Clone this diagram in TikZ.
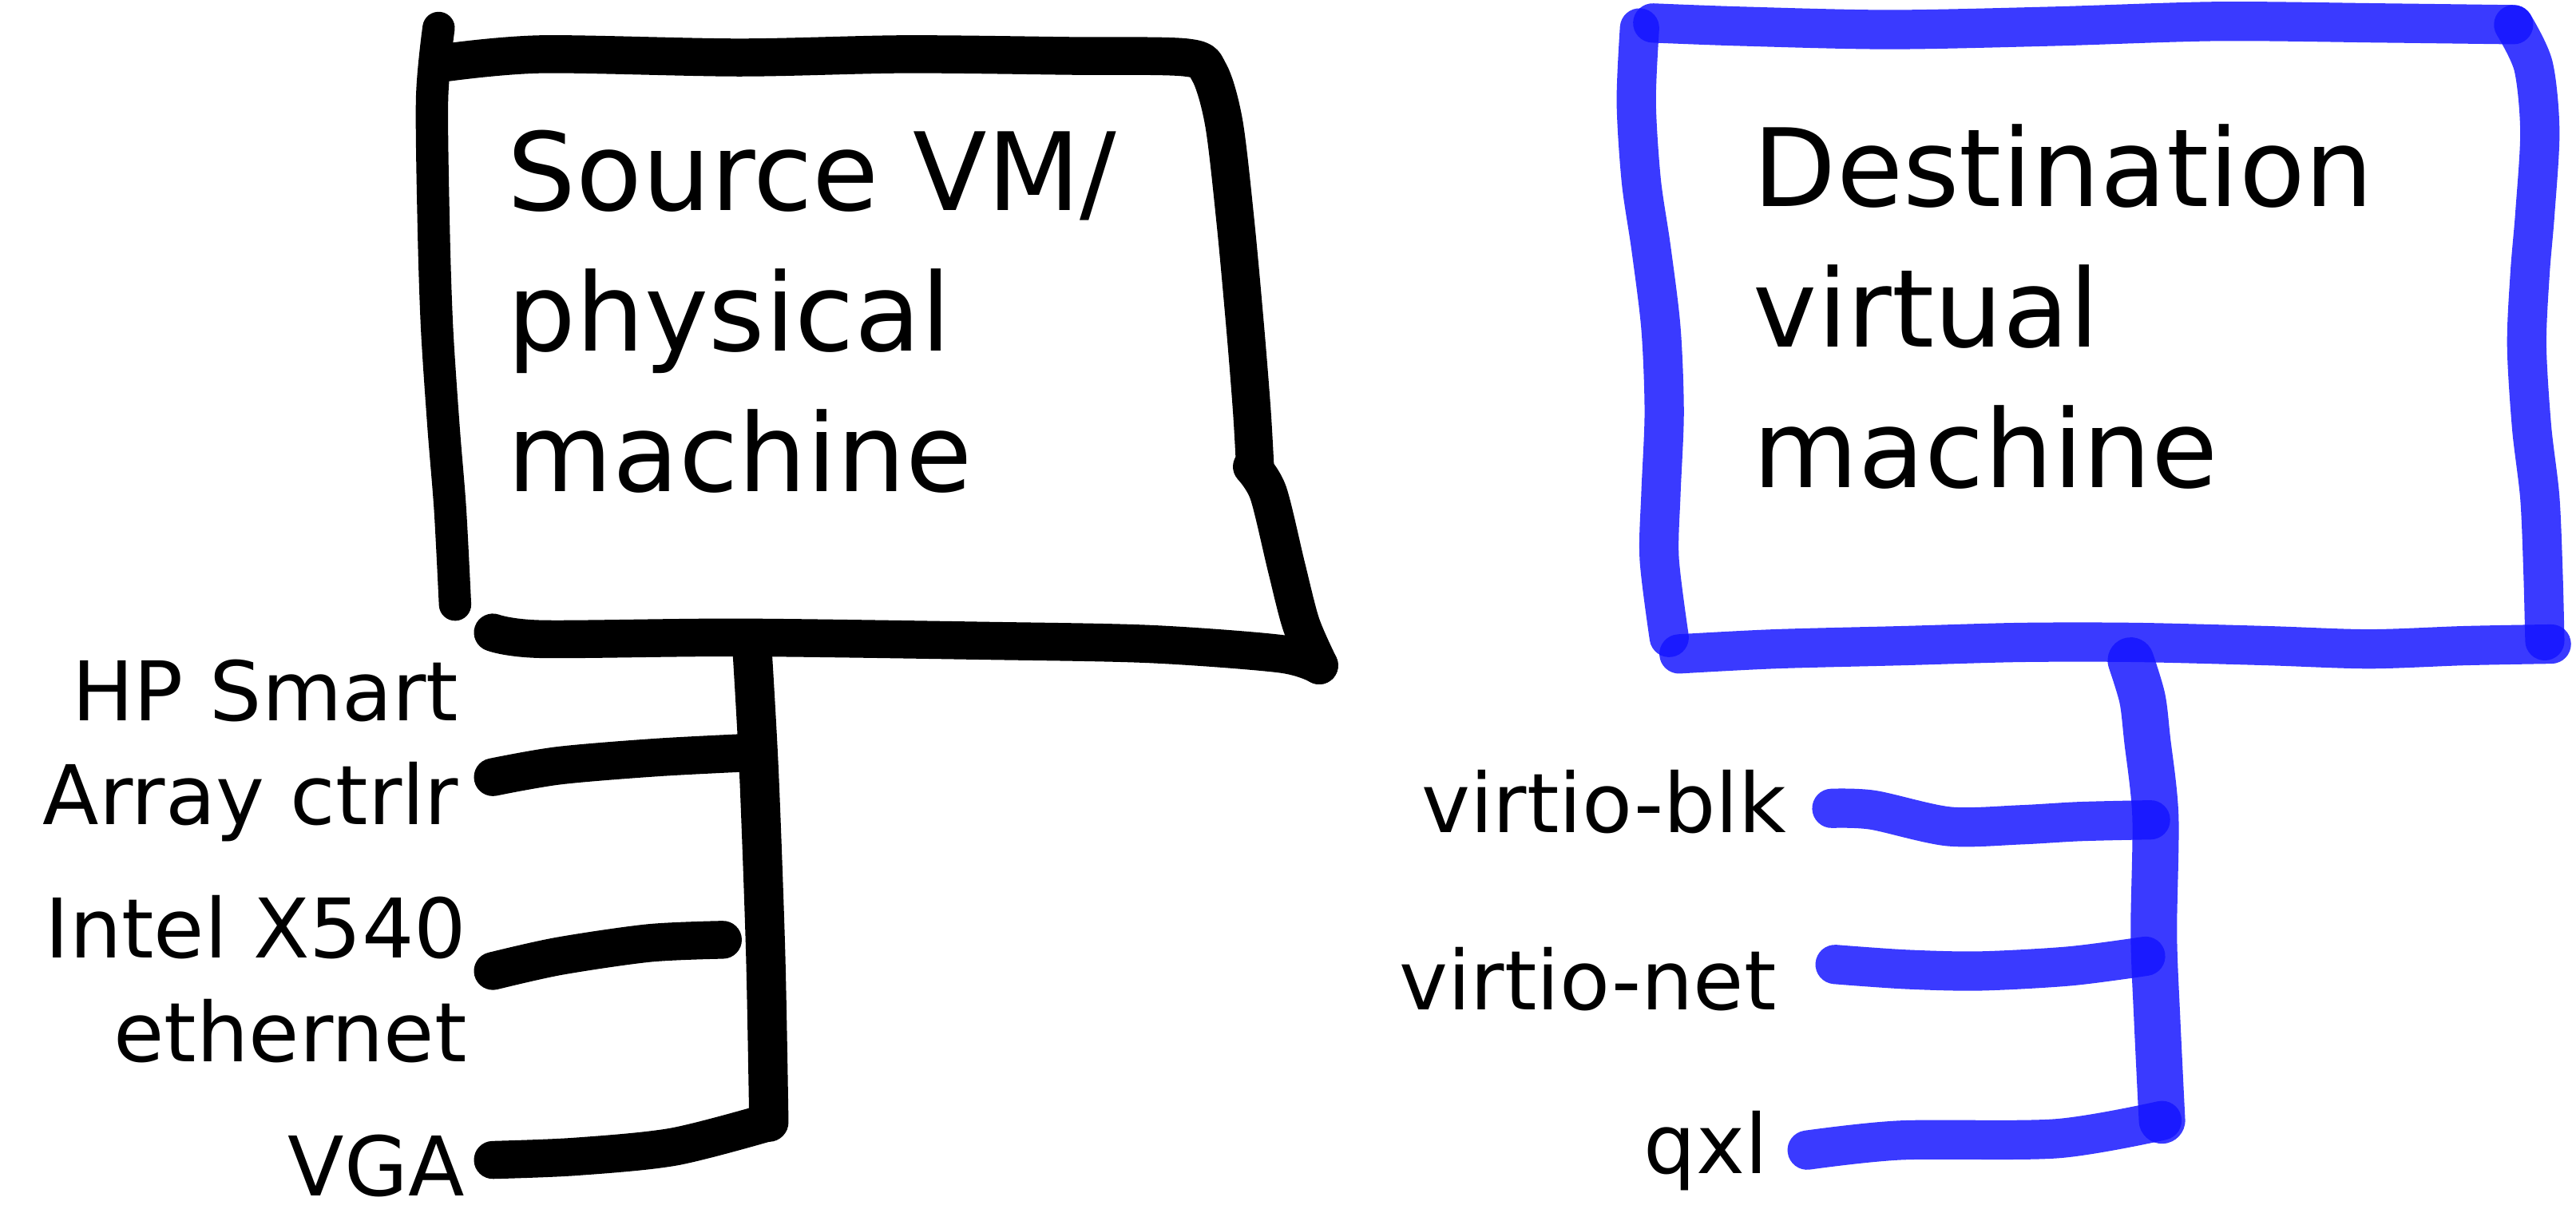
\documentclass[tikz,border=0pt]{standalone}
\usepackage{fontspec}
\setmainfont{DejaVu Sans}
\begin{document}
\begin{tikzpicture}[x=0.020574cm, y=-0.020574cm,
  ink/.style={line width=13.5pt, line cap=round, line join=round, black},
  bluepen/.style={line width=14pt, line cap=round, line join=round,
    draw={rgb,255:red,20;green,20;blue,255}, draw opacity=0.84},
  bigtext/.style={inner sep=0pt, font=\fontsize{38.5}{50}\selectfont, align=left},
  smalltext/.style={inner sep=0pt, font=\fontsize{29.3}{37}\selectfont, align=right}]
\useasboundingbox (0,0) rectangle (1568,743);

% ---------- source machine (black) ----------
% multi-line nodes: the base anchor sits on the last line
\node[bigtext, anchor=base west] (src) at (308.6,299) {Source VM/\\physical\\machine};

\coordinate (sTL) at (267,17);
\coordinate (sBL) at (277,368);
\coordinate (sBR) at (803,405);
\coordinate (sStemTop) at (458,398);
\coordinate (sStemBot) at (468,683);

% outline strokes
\draw[ink, line width=11.5pt] plot[smooth] coordinates {(sTL) (263,60) (264,140) (266,200) (270,260) (274,310) (sBL)};
\draw[ink] plot[smooth] coordinates {(272,38) (330,33) (450,35) (550,33) (650,34) (722,35) (736,44)
  (745,75) (752,135) (758,200) (762,250) (764,285)};
\draw[ink] plot[smooth] coordinates {(762,284) (772,300) (783,345) (792,380) (sBR)};
\draw[ink] plot[smooth] coordinates {(300,385) (330,389) (450,388) (600,390) (700,392) (780,398) (sBR)};

% device bus
\draw[ink, line width=14pt] plot[smooth] coordinates {(sStemTop) (462,470) (466,580) (sStemBot)};

\node[smalltext, anchor=base east] (hp) at (279.5,501.7) {HP Smart\\Array ctrlr};
\node[smalltext, anchor=base east] (intel) at (284.5,646) {Intel X540\\ethernet};
\node[smalltext, anchor=base east] (vga) at (283,728) {VGA};

\coordinate (hpEnd) at (300,473);
\coordinate (intelEnd) at (300,591);
\coordinate (vgaEnd) at (300,706);
\draw[ink] plot[smooth] coordinates {(hpEnd) (340,466) (400,461) (458,458)};
\draw[ink] plot[smooth] coordinates {(intelEnd) (340,582) (395,574) (440,572)};
\draw[ink] plot[smooth] coordinates {(vgaEnd) (350,704) (410,698) (sStemBot)};

% ---------- destination machine (blue) ----------
\node[bigtext, anchor=base west] (dst) at (1067,296.5) {Destination\\virtual\\machine};

\coordinate (dTL) at (1006,14);
\coordinate (dTR) at (1530,15);
\coordinate (dBR) at (1553,392);
\coordinate (dStemTop) at (1297,402);
\coordinate (dStemBot) at (1316,682);

\draw[bluepen] plot[smooth] coordinates {(dTL) (1060,16) (1150,18) (1250,16) (1350,13) (1450,14) (dTR)};
\draw[bluepen] plot[smooth] coordinates {(998,17) (996,62) (999,110) (1005,151) (1011,200) (1013,251)
  (1011,300) (1010,340) (1016,388)};
\draw[bluepen] plot[smooth] coordinates {(dTR) (1542,40) (1546,80) (1543,130) (1540,166) (1538,210)
  (1541,260) (1546,303) (1548,350) (1549,390)};
\draw[bluepen] plot[smooth] coordinates {(1022,398) (1080,395) (1158,393) (1230,391) (1300,391)
  (1380,393) (1442,395) (1500,393) (dBR)};

\draw[bluepen, line width=16.5pt] plot[smooth] coordinates {(dStemTop) (1304,425) (1307,450) (1312,497)
  (1311,568) (1313,620) (dStemBot)};

\node[smalltext, anchor=base east] (vblk) at (1087.6,506.5) {virtio-blk};
\node[smalltext, anchor=base east] (vnet) at (1081.5,614.4) {virtio-net};
\node[smalltext, anchor=base east] (qxl) at (1076.4,714) {qxl};

\coordinate (vblkEnd) at (1115,492);
\coordinate (vnetEnd) at (1117,587);
\coordinate (qxlEnd) at (1100,700);
\draw[bluepen] plot[smooth] coordinates {(vblkEnd) (1140,493) (1186,503) (1230,502) (1266,500) (1309,499)};
\draw[bluepen] plot[smooth] coordinates {(vnetEnd) (1160,590) (1205,591) (1260,588) (1306,582)};
\draw[bluepen] plot[smooth] coordinates {(qxlEnd) (1157,694) (1252,693) (dStemBot)};
\end{tikzpicture}
\end{document}
